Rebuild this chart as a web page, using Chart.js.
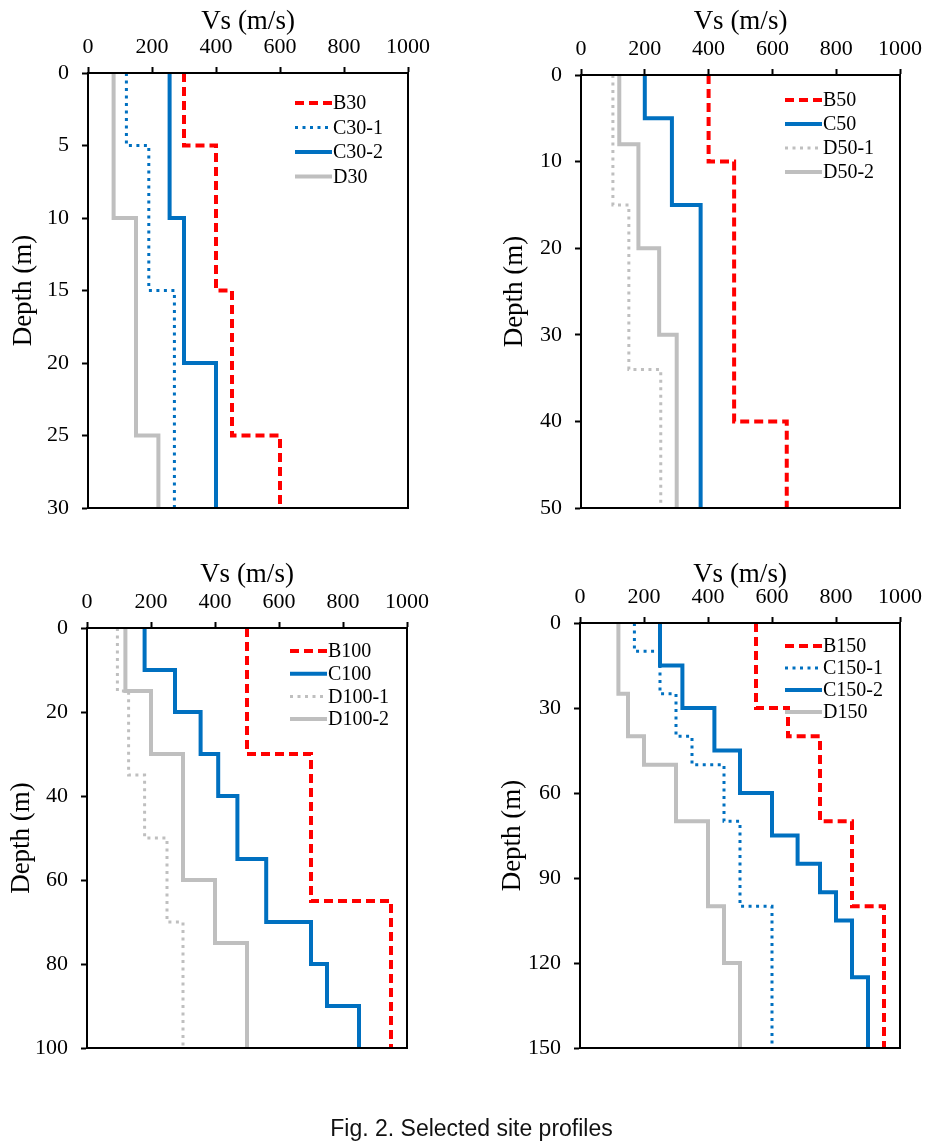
<!DOCTYPE html>
<html>
<head>
<meta charset="utf-8">
<script src="https://cdn.jsdelivr.net/npm/chart.js@4/dist/chart.umd.min.js"></script>
<style>
  body { margin: 0; background: #fff; width: 943px; height: 1147px; position: relative; overflow: hidden; }
  .panel { position: absolute; }
  #caption {
    position: absolute; left: 0; width: 943px; top: 1117px; text-align: center;
    font-family: "Liberation Sans", Arial, sans-serif; font-size: 23px; line-height: 23px; color: #111;
  }
</style>
</head>
<body>
<div class="panel" style="left:0;top:0"><canvas id="p30" width="470" height="545"></canvas></div>
<div class="panel" style="left:470px;top:0"><canvas id="p50" width="473" height="545"></canvas></div>
<div class="panel" style="left:0;top:560px"><canvas id="p100" width="470" height="560"></canvas></div>
<div class="panel" style="left:470px;top:560px"><canvas id="p150" width="473" height="560"></canvas></div>
<div id="caption">Fig. 2. Selected site profiles</div>
<script>
// Layer boundaries (m) and shear wave velocity of each layer (m/s)
const b30Depth = [0, 5, 15, 25, 30];
const b30Vs = [300, 400, 450, 600];
const c301Depth = [0, 5, 15, 30];
const c301Vs = [120, 190, 270];
const c302Depth = [0, 10, 20, 30];
const c302Vs = [255, 300, 400];
const d30Depth = [0, 10, 25, 30];
const d30Vs = [80, 150, 220];

const b50Depth = [0, 10, 40, 50];
const b50Vs = [400, 480, 645];
const c50Depth = [0, 5, 15, 50];
const c50Vs = [200, 285, 375];
const d501Depth = [0, 15, 34, 50];
const d501Vs = [100, 150, 250];
const d502Depth = [0, 8, 20, 30, 50];
const d502Vs = [120, 180, 245, 300];

const b100Depth = [0, 30, 65, 100];
const b100Vs = [500, 700, 950];
const c100Depth = [0, 10, 20, 30, 40, 55, 70, 80, 90, 100];
const c100Vs = [180, 275, 355, 410, 470, 560, 700, 750, 850];
const d1001Depth = [0, 15, 35, 50, 70, 100];
const d1001Vs = [95, 130, 180, 250, 300];
const d1002Depth = [0, 15, 30, 60, 75, 100];
const d1002Vs = [120, 200, 300, 400, 500];

const b150Depth = [0, 30, 40, 70, 100, 150];
const b150Vs = [550, 650, 750, 850, 950];
const c1501Depth = [0, 10, 25, 40, 50, 70, 100, 150];
const c1501Vs = [170, 250, 300, 350, 450, 500, 600];
const c1502Depth = [0, 15, 30, 45, 60, 75, 85, 95, 105, 125, 150];
const c1502Vs = [250, 320, 420, 500, 600, 680, 750, 800, 850, 900];
const d150Depth = [0, 25, 40, 50, 70, 100, 120, 150];
const d150Vs = [120, 150, 200, 300, 400, 450, 500];

const vsTicks = [0, 200, 400, 600, 800, 1000];

// line styles
const RED = '#FF0000', BLUE = '#0070C0', GRAY = '#BFBFBF';
const styles = {
  redDash:   { color: RED,  width: 4, dash: [9, 5] },
  blueDot:   { color: BLUE, width: 3, dash: [3, 4.5] },
  blueSolid: { color: BLUE, width: 4, dash: [] },
  grayDot:   { color: GRAY, width: 3, dash: [3, 4.5] },
  graySolid: { color: GRAY, width: 4, dash: [] }
};

// turn a layered profile into the points of a step line
function profile(depth, vs) {
  const pts = [];
  vs.forEach((v, i) => {
    pts.push({ x: v, y: depth[i] });
    pts.push({ x: v, y: depth[i + 1] });
  });
  return pts;
}

function series(label, depth, vs, style) {
  const s = styles[style];
  return {
    label: label,
    data: profile(depth, vs),
    showLine: true,
    borderColor: s.color,
    borderWidth: s.width,
    borderDash: s.dash,
    borderCapStyle: 'butt',
    borderJoinStyle: 'miter',
    pointRadius: 0,
    fill: false
  };
}

const serif = "'Liberation Serif', 'Times New Roman', serif";
Chart.defaults.font.family = serif;
Chart.defaults.font.size = 22;
Chart.defaults.color = '#000';

// box around the plot area plus a legend in the upper right
const framePlugin = {
  id: 'frameLegend',
  afterDatasetsDraw(chart, args, opts) {
    const { ctx, chartArea: a } = chart;
    ctx.save();
    ctx.strokeStyle = '#000';
    ctx.lineWidth = 2;
    ctx.setLineDash([]);
    ctx.strokeRect(a.left, a.top, a.right - a.left, a.bottom - a.top);

    chart.data.datasets.forEach((ds, i) => {
      const y = opts.y + i * opts.gap;
      ctx.beginPath();
      ctx.strokeStyle = ds.borderColor;
      ctx.lineWidth = ds.borderWidth;
      ctx.setLineDash(ds.borderDash);
      ctx.moveTo(opts.x, y);
      ctx.lineTo(opts.x + 37, y);
      ctx.stroke();
      ctx.setLineDash([]);
      ctx.fillStyle = '#000';
      ctx.font = '20px ' + serif;
      ctx.textBaseline = 'middle';
      ctx.textAlign = 'left';
      ctx.fillText(ds.label, opts.x + 38, y + 1);
    });
    ctx.restore();
  }
};

const tickFont = { family: serif, size: 22 };

function makeChart(id, datasets, maxDepth, depthStep, box, legend) {
  new Chart(document.getElementById(id), {
    type: 'scatter',
    data: { datasets: datasets },
    plugins: [framePlugin],
    options: {
      responsive: false,
      animation: false,
      devicePixelRatio: 1,
      layout: { padding: { left: 0, top: 0, right: box.right, bottom: box.bottom } },
      plugins: {
        legend: { display: false },
        tooltip: { enabled: false },
        frameLegend: legend
      },
      scales: {
        x: {
          type: 'linear',
          position: 'top',
          min: 0,
          max: 1000,
          afterFit: (s) => { s.height = box.top; },
          afterBuildTicks: (s) => { s.ticks = vsTicks.map(v => ({ value: v })); },
          ticks: { color: '#000', padding: 7, font: tickFont, callback: (v) => String(v) },
          grid: { drawOnChartArea: false, drawTicks: true, tickLength: 6, tickWidth: 2, tickColor: '#000' },
          border: { display: true, color: '#000', width: 2 },
          title: {
            display: true, text: 'Vs (m/s)', color: '#000',
            font: { family: serif, size: 27, lineHeight: 1 },
            padding: { top: box.xTitle - 13.5, bottom: 0 }
          }
        },
        y: {
          type: 'linear',
          position: 'left',
          reverse: true,
          min: 0,
          max: maxDepth,
          afterFit: (s) => { s.width = box.left; },
          ticks: { stepSize: depthStep, color: '#000', padding: 13, font: tickFont, callback: (v) => String(v) },
          grid: { drawOnChartArea: false, drawTicks: true, tickLength: 6, tickWidth: 2, tickColor: '#000' },
          border: { display: true, color: '#000', width: 2 },
          title: {
            display: true, text: 'Depth (m)', color: '#000',
            font: { family: serif, size: 27, lineHeight: 1 },
            padding: { top: box.yTitle - 13.5, bottom: 0 }
          }
        }
      }
    }
  });
}

makeChart('p30', [
  series('B30', b30Depth, b30Vs, 'redDash'),
  series('C30-1', c301Depth, c301Vs, 'blueDot'),
  series('C30-2', c302Depth, c302Vs, 'blueSolid'),
  series('D30', d30Depth, d30Vs, 'graySolid')
], 30, 5, { top: 73, left: 88, right: 62, bottom: 37, xTitle: 22, yTitle: 24 },
  { x: 295, y: 103, gap: 24.5 });

makeChart('p50', [
  series('B50', b50Depth, b50Vs, 'redDash'),
  series('C50', c50Depth, c50Vs, 'blueSolid'),
  series('D50-1', d501Depth, d501Vs, 'grayDot'),
  series('D50-2', d502Depth, d502Vs, 'graySolid')
], 50, 10, { top: 75, left: 111, right: 43, bottom: 37, xTitle: 22, yTitle: 45 },
  { x: 315, y: 100, gap: 24 });

makeChart('p100', [
  series('B100', b100Depth, b100Vs, 'redDash'),
  series('C100', c100Depth, c100Vs, 'blueSolid'),
  series('D100-1', d1001Depth, d1001Vs, 'grayDot'),
  series('D100-2', d1002Depth, d1002Vs, 'graySolid')
], 100, 20, { top: 68, left: 87, right: 63, bottom: 72, xTitle: 15, yTitle: 22 },
  { x: 290, y: 91, gap: 22.7 });

makeChart('p150', [
  series('B150', b150Depth, b150Vs, 'redDash'),
  series('C150-1', c1501Depth, c1501Vs, 'blueDot'),
  series('C150-2', c1502Depth, c1502Vs, 'blueSolid'),
  series('D150', d150Depth, d150Vs, 'graySolid')
], 150, 30, { top: 63, left: 110, right: 43, bottom: 72, xTitle: 15, yTitle: 43 },
  { x: 315, y: 86, gap: 22 });
</script>
</body>
</html>
